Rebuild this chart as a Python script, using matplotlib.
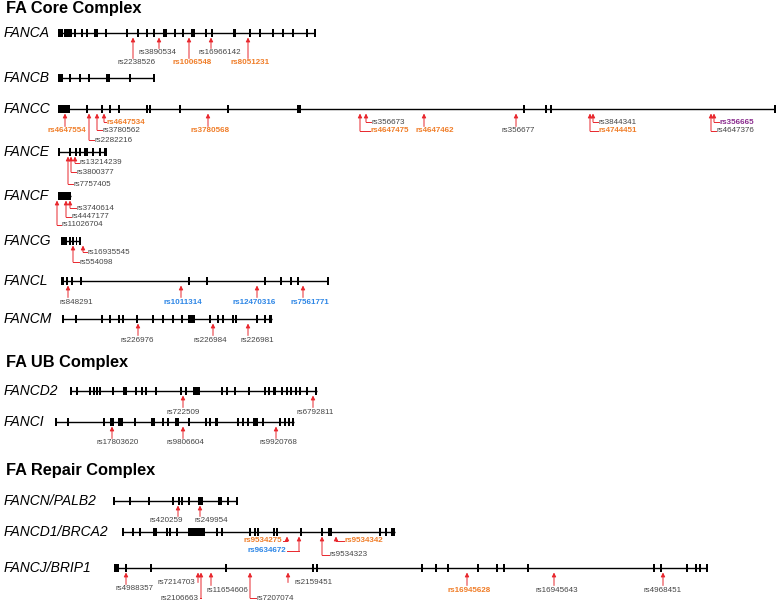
# ----------------------------------------------------------------------
#   Imports
# ----------------------------------------------------------------------

import matplotlib
matplotlib.use('Agg')
import matplotlib.pyplot as plt
from matplotlib.patches import Rectangle

plt.rcParams['font.family'] = ['Liberation Sans', 'DejaVu Sans']

# ----------------------------------------------------------------------
#   Data  (positions in picture units, x along the gene, y = row)
# ----------------------------------------------------------------------

sections = ['FA Core Complex', 'FA UB Complex', 'FA Repair Complex']
section_y = [8, 362, 470]

genes = ['FANCA', 'FANCB', 'FANCC', 'FANCE', 'FANCF', 'FANCG', 'FANCL',
         'FANCM', 'FANCD2', 'FANCI', 'FANCN/PALB2', 'FANCD1/BRCA2',
         'FANCJ/BRIP1']
gene_y = [33, 78, 109, 152, 196, 241, 281, 319, 391, 422, 501, 532, 568]
gene_span = [(58, 315), (58, 154), (58, 775), (58, 106), (58, 71), (61, 80),
             (61, 328), (62, 272), (71, 317), (56, 294), (114, 237),
             (122, 395), (114, 707)]

# exons: single number = thin exon, pair = block
exons_FANCA = [(58, 63), 65, 67, 69, 71, 75, 82, (86, 88), 95, 97, 106, 127,
               138, 147, 154, (163, 167), 175, 183, 192, 194, 206, 212,
               (233, 236), 250, 260, (272, 274), 283, 293, 307, (314, 316)]
exons_FANCB = [(58, 63), 70, 80, 89, 107, 109, (129, 131), 154]
exons_FANCC = [(58, 70), 87, 102, 110, 119, 147, 150, 180, 228, 298, 300,
               524, 546, 551, 775]
exons_FANCE = [59, (69, 71), (75, 77), 80, 85, 87, 93, 100, (104, 107)]
exons_FANCF = [(58, 71)]
exons_FANCG = [(61, 67), 70, 73, (76, 77), 80]
exons_FANCL = [(61, 64), 67, 72, 81, 189, 207, 265, 281, 291, 298, 328]
exons_FANCM = [(62, 64), 76, 102, 110, 119, (122, 124), 137, 153, 163, 173,
               182, (188, 195), (209, 211), 218, 223, 233, 236, 257, 265,
               (269, 272)]
exons_FANCD2 = [71, 77, 90, 94, 97, 100, (112, 114), (123, 127), 136, 142,
                146, 156, 181, 186, (193, 200), (221, 223), 227, 235,
                (248, 250), 265, 269, (273, 276), 282, 287, 291, 296, 300,
                307, (315, 317)]
exons_FANCI = [56, 68, 104, 111, 113, (118, 123), 135, 152, 154, 163, 168,
               176, 178, 189, 206, 210, (215, 218), 238, 243, 248,
               (253, 258), 263, 280, 285, 289, (292, 294)]
exons_PALB2 = [114, 130, 149, 173, 179, 182, 189, (198, 203), (218, 222),
               228, 237]
exons_BRCA2 = [(122, 124), 133, 140, (153, 157), 167, 170, (176, 178),
               (188, 205), 217, 222, 250, 255, 258, 274, 277, (300, 302),
               322, (328, 332), 380, 386, (391, 395)]
exons_BRIP1 = [(114, 119), 126, 151, 226, 313, 317, 422, (435, 437), 448,
               478, 497, 504, 528, 654, 661, 687, 696, 700, 707]

exons = [exons_FANCA, exons_FANCB, exons_FANCC, exons_FANCE, exons_FANCF,
         exons_FANCG, exons_FANCL, exons_FANCM, exons_FANCD2, exons_FANCI,
         exons_PALB2, exons_BRCA2, exons_BRIP1]

# snps: (gene index, x, label x, label y, name, colour code, label mode)
# modes: c = centred below, r/l = elbow to right/left, sr/sl = beside, no elbow
snps = [
    (0, 133, 137, 63, 'rs2238526', 'k', 'c'),
    (0, 159, 158, 53, 'rs3890534', 'k', 'c'),
    (0, 189, 192, 63, 'rs1006548', 'o', 'c'),
    (0, 211, 220, 53, 'rs16966142', 'k', 'c'),
    (0, 248, 250, 63, 'rs8051231', 'o', 'c'),
    (2, 65, 67, 131, 'rs4647554', 'o', 'c'),
    (2, 89, 95, 140, 'rs2282216', 'k', 'r'),
    (2, 97, 103, 130, 'rs3780562', 'k', 'r'),
    (2, 104, 107, 122, 'rs4647534', 'o', 'r'),
    (2, 208, 210, 131, 'rs3780568', 'o', 'c'),
    (2, 360, 371, 131, 'rs4647475', 'o', 'r'),
    (2, 366, 372, 122, 'rs356673', 'k', 'r'),
    (2, 424, 435, 131, 'rs4647462', 'o', 'c'),
    (2, 516, 518, 131, 'rs356677', 'k', 'c'),
    (2, 590, 599, 131, 'rs4744451', 'o', 'r'),
    (2, 593, 599, 122, 'rs3844341', 'k', 'r'),
    (2, 711, 717, 131, 'rs4647376', 'k', 'r'),
    (2, 714, 720, 122, 'rs356665', 'p', 'r'),
    (3, 68, 74, 184, 'rs7757405', 'k', 'r'),
    (3, 71, 77, 172, 'rs3800377', 'k', 'r'),
    (3, 75, 80, 163, 'rs13214239', 'k', 'r'),
    (4, 57, 62, 225, 'rs11026704', 'k', 'r'),
    (4, 66, 72, 217, 'rs4447177', 'k', 'r'),
    (4, 70, 77, 208, 'rs3740614', 'k', 'r'),
    (5, 73, 80, 262, 'rs554098', 'k', 'r'),
    (5, 83, 88, 252, 'rs16935545', 'k', 'r'),
    (6, 68, 76, 302, 'rs848291', 'k', 'c'),
    (6, 181, 183, 302, 'rs1011314', 'b', 'c'),
    (6, 257, 254, 302, 'rs12470316', 'b', 'c'),
    (6, 303, 310, 302, 'rs7561771', 'b', 'c'),
    (7, 138, 137, 340, 'rs226976', 'k', 'c'),
    (7, 213, 210, 340, 'rs226984', 'k', 'c'),
    (7, 248, 257, 340, 'rs226981', 'k', 'c'),
    (8, 183, 183, 412, 'rs722509', 'k', 'c'),
    (8, 313, 315, 412, 'rs6792811', 'k', 'c'),
    (9, 112, 118, 443, 'rs17803620', 'k', 'c'),
    (9, 183, 185, 443, 'rs9806604', 'k', 'c'),
    (9, 276, 278, 443, 'rs9920768', 'k', 'c'),
    (10, 178, 166, 521, 'rs420259', 'k', 'c'),
    (10, 200, 211, 521, 'rs249954', 'k', 'c'),
    (11, 287, 282, 541, 'rs9534275', 'o', 'l'),
    (11, 299, 286, 551, 'rs9634672', 'b', 'l'),
    (11, 322, 330, 555, 'rs9534323', 'k', 'r'),
    (11, 336, 345, 541, 'rs9534342', 'o', 'r'),
    (12, 126, 135, 589, 'rs4988357', 'k', 'c'),
    (12, 198, 195, 582, 'rs7214703', 'k', 'sl'),
    (12, 201, 199, 598, 'rs2106663', 'k', 'l'),
    (12, 211, 227, 590, 'rs11654606', 'k', 'c'),
    (12, 250, 257, 598, 'rs7207074', 'k', 'r'),
    (12, 288, 295, 582, 'rs2159451', 'k', 'sr'),
    (12, 467, 469, 590, 'rs16945628', 'o', 'c'),
    (12, 554, 557, 590, 'rs16945643', 'k', 'c'),
    (12, 663, 663, 590, 'rs4968451', 'k', 'c'),
]

# ----------------------------------------------------------------------
#   Styles
# ----------------------------------------------------------------------

colors = {'k': '#444444', 'o': '#F07D28', 'b': '#2D86E6', 'p': '#8A2B8E'}
red = '#E8262C'
snp_fs = 5.8

# ----------------------------------------------------------------------
#   Main
# ----------------------------------------------------------------------

def draw_gene(ax, y, span, ex):
    ax.plot(span, [y, y], color='black', lw=1.0, solid_capstyle='butt', zorder=2)
    for e in ex:
        if isinstance(e, tuple):
            x0, x1 = e
        else:
            x0, x1 = e - 0.6, e + 0.6
        ax.add_patch(Rectangle((x0, y - 4), x1 - x0, 8., color='black',
                               lw=0, zorder=3))


def draw_snp(ax, y, x, lx, ly, name, c, mode):
    top = y + 4.5
    if mode == 'c':
        bot = ly - 4.5
    elif mode in ('r', 'l'):
        bot = ly
    else:
        bot = top + 10
    ax.annotate('', xy=(x, top), xytext=(x, bot),
                arrowprops=dict(arrowstyle='-|>', color=red, lw=0.7,
                                mutation_scale=6, shrinkA=0, shrinkB=0))
    if mode == 'r':
        ax.plot([x, lx - 1], [ly, ly], color=red, lw=0.7)
    elif mode == 'l':
        ax.plot([x, lx + 1], [ly, ly], color=red, lw=0.7)

    ha = {'c': 'center', 'r': 'left', 'sr': 'left', 'l': 'right', 'sl': 'right'}[mode]
    weight = 'normal' if c == 'k' else 'bold'
    ax.text(lx, ly, name, color=colors[c], fontsize=snp_fs, ha=ha, va='center',
            fontweight=weight)


def main():
    fig = plt.figure(figsize=(7.78, 6.05), dpi=100)
    ax = fig.add_axes([0, 0, 1, 1])
    ax.set_xlim(0, 778)
    ax.set_ylim(605, 0)
    ax.axis('off')

    for title, y in zip(sections, section_y):
        ax.text(6, y, title, fontsize=11.8, fontweight='bold', ha='left',
                va='center', color='black')

    for i, g in enumerate(genes):
        ax.text(4, gene_y[i], g, fontsize=10, style='italic', ha='left',
                va='center', color='black')
        draw_gene(ax, gene_y[i], gene_span[i], exons[i])

    for gi, x, lx, ly, name, c, mode in snps:
        draw_snp(ax, gene_y[gi], x, lx, ly, name, c, mode)

    fig.savefig('out.png', dpi=100)
    plt.close()


if __name__ == '__main__':
    main()
